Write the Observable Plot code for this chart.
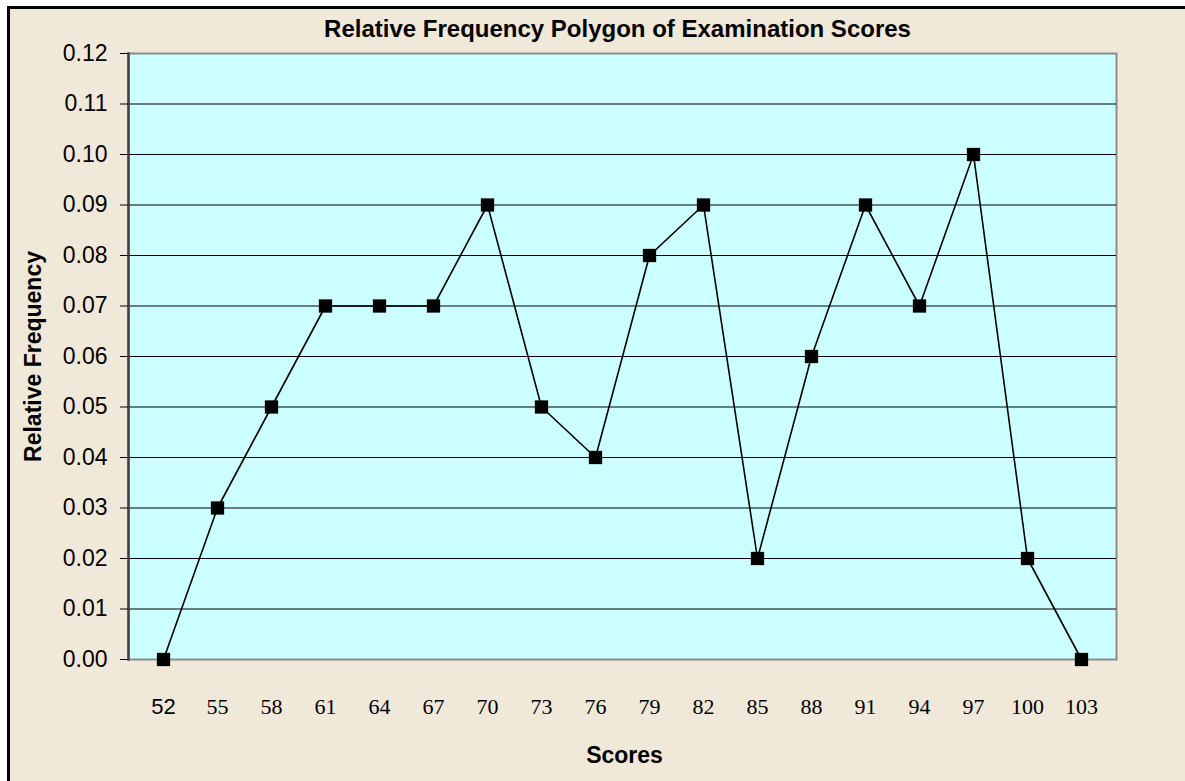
<!DOCTYPE html>
<html>
<head>
<meta charset="utf-8">
<script src="https://cdn.jsdelivr.net/npm/d3@7"></script>
<script src="https://cdn.jsdelivr.net/npm/@observablehq/plot@0.6"></script>
<style>
  html, body { margin: 0; padding: 0; background: #ffffff; overflow: hidden; width: 1185px; height: 781px; }
  #frame { position: absolute; left: 7px; top: 6px; width: 1300px; height: 900px; background: #F0E8D8; border: 3px solid #000; z-index: 0; }
  #chart { position: absolute; left: 0; top: 0; z-index: 1; }
  #chart svg { background: transparent !important; }
  g[aria-label="x-axis tick label"] text:first-child { font-family: "Liberation Sans", Arial, sans-serif; }
</style>
</head>
<body>
<div id="frame"></div>
<div id="chart"></div>
<script>
const scores = ["52","55","58","61","64","67","70","73","76","79","82","85","88","91","94","97","100","103"];
const relFreq = [0.00,0.03,0.05,0.07,0.07,0.07,0.09,0.05,0.04,0.08,0.09,0.02,0.06,0.09,0.07,0.10,0.02,0.00];
const yTicks = [0,0.01,0.02,0.03,0.04,0.05,0.06,0.07,0.08,0.09,0.10,0.11,0.12];
const title = "Relative Frequency Polygon of Examination Scores";
const xLabel = "Scores";
const yLabel = "Relative Frequency";

const data = scores.map((s, i) => ({score: s, value: relFreq[i]}));

const chart = Plot.plot({
  width: 1185,
  height: 781,
  marginLeft: 128,
  marginRight: 69,
  marginTop: 53,
  marginBottom: 122,
  style: {background: "transparent", fontFamily: "'Liberation Sans', Arial, sans-serif"},
  x: {type: "point", domain: scores, padding: 0.5},
  y: {domain: [0, 0.12], ticks: yTicks},
  marks: [
    Plot.frame({fill: "#CCFFFF", stroke: "#8C8C8C", strokeWidth: 2}),
    Plot.ruleY(yTicks.slice(1, -1), {stroke: "#000", strokeWidth: 1}),
    Plot.frame({anchor: "left", stroke: "#404040", strokeWidth: 2.5}),
    Plot.axisY({
      ticks: yTicks, tickFormat: d => d.toFixed(2), tickSize: 8, tickPadding: 13,
      fontSize: 23, stroke: "#000", color: "#000", label: null
    }),
    Plot.axisX({
      tickSize: 0, tickPadding: 39, fontSize: 22, label: null,
      fontFamily: "'Liberation Serif', 'Times New Roman', serif", color: "#000"
    }),
    Plot.line(data, {x: "score", y: "value", stroke: "#000", strokeWidth: 1.6}),
    Plot.dot(data, {x: "score", y: "value", symbol: "square", r: 7.5, fill: "#000", stroke: "none"}),
    Plot.text([title], {frameAnchor: "top", lineAnchor: "middle", textAnchor: "middle", dy: -24, dx: -5, fontSize: 24, fontWeight: "bold", fill: "#000"}),
    Plot.text([xLabel], {frameAnchor: "bottom", lineAnchor: "middle", textAnchor: "middle", dy: 96, dx: 2, fontSize: 23, fontWeight: "bold", fill: "#000"}),
    Plot.text([yLabel], {frameAnchor: "left", lineAnchor: "middle", textAnchor: "middle", dx: -95, rotate: -90, fontSize: 23, fontWeight: "bold", fill: "#000"})
  ]
});
document.getElementById("chart").appendChild(chart);
</script>
</body>
</html>
